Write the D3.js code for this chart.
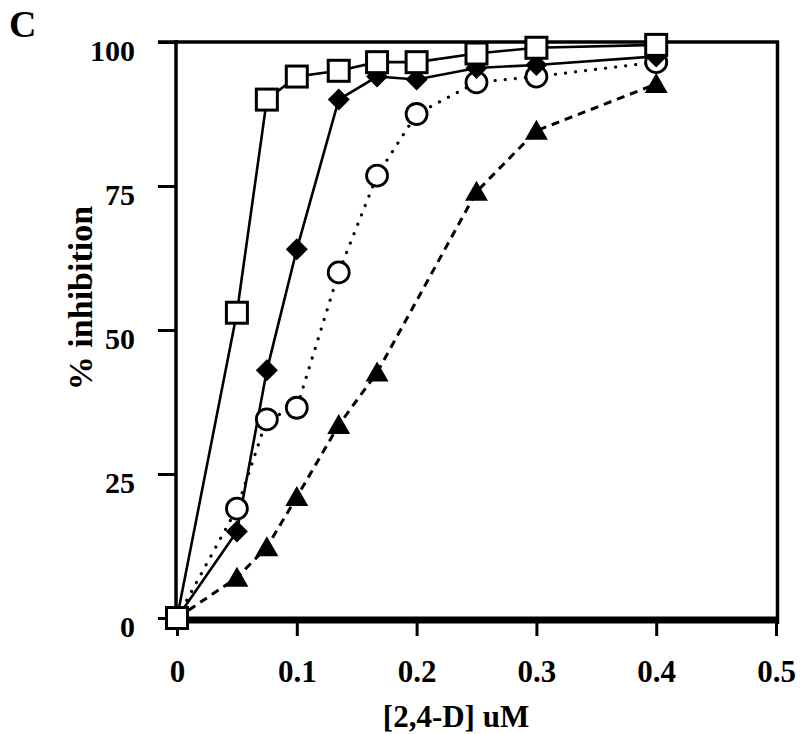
<!DOCTYPE html>
<html>
<head>
<meta charset="utf-8">
<script src="https://cdn.jsdelivr.net/npm/d3@7"></script>
<style>
  html, body { margin: 0; padding: 0; background: #fff; }
  svg { display: block; }
  text { font-family: "Liberation Serif", "Times New Roman", serif; font-weight: bold; fill: #000; }
</style>
</head>
<body>
<svg id="chart" width="800" height="734"></svg>
<script>
// ---- data ----
const xTicks = [0, 0.1, 0.2, 0.3, 0.4, 0.5];
const yTicks = [0, 25, 50, 75, 100];

const squareX = [0, 0.05, 0.075, 0.1, 0.135, 0.167, 0.2, 0.25, 0.3, 0.4];
const squareY = [0, 53, 90, 94, 95, 96.5, 96.5, 98, 99, 99.5];

const diamondX = [0, 0.05, 0.075, 0.1, 0.135, 0.167, 0.2, 0.25, 0.3, 0.4];
const diamondY = [0, 15, 43, 64, 90, 94, 93.5, 95.5, 96, 97.5];

const circleX = [0, 0.05, 0.075, 0.1, 0.135, 0.167, 0.2, 0.25, 0.3, 0.4];
const circleY = [0, 19, 34.5, 36.5, 60, 76.8, 87.5, 93, 94, 96.5];

const triangleX = [0, 0.05, 0.075, 0.1, 0.135, 0.167, 0.25, 0.3, 0.4];
const triangleY = [0, 7, 12.3, 21, 33.5, 42.6, 74, 84.6, 92.7];

// ---- chart ----
const svg = d3.select("#chart");
const x = d3.scaleLinear().domain([0, 0.5]).range([177, 776]);
const y = d3.scaleLinear().domain([0, 100]).range([618, 42]);

const zip = (xs, ys) => xs.map((v, i) => [v, ys[i]]);
const line = d3.line().x(d => x(d[0])).y(d => y(d[1]));

// panel letter
svg.append("text").attr("x", 9).attr("y", 37).attr("font-size", 38).text("C");

// frame: top and right
svg.append("line").attr("x1", 158).attr("x2", 779).attr("y1", 42).attr("y2", 42)
  .attr("stroke", "#000").attr("stroke-width", 3.5);
svg.append("line").attr("x1", 777.5).attr("x2", 777.5).attr("y1", 41).attr("y2", 624)
  .attr("stroke", "#000").attr("stroke-width", 3.5);

// y axis
const yAxis = svg.append("g").attr("transform", "translate(176,0)")
  .call(d3.axisLeft(y).tickValues(yTicks).tickSize(18).tickFormat(d3.format("d")));
yAxis.select(".domain").remove();
yAxis.selectAll(".tick line").attr("stroke", "#000").attr("stroke-width", 3);
yAxis.selectAll(".tick text").attr("x", -41).attr("dy", "0.62em")
  .attr("font-size", 30).attr("font-family", null);
svg.append("line").attr("x1", 176).attr("x2", 176).attr("y1", 40).attr("y2", 624)
  .attr("stroke", "#000").attr("stroke-width", 3.5);

// x axis
const xAxis = svg.append("g").attr("transform", "translate(0,620)")
  .call(d3.axisBottom(x).tickValues(xTicks).tickSize(16).tickFormat(d => d === 0 ? "0" : d3.format(".1f")(d)));
xAxis.select(".domain").remove();
xAxis.selectAll(".tick line").attr("stroke", "#000").attr("stroke-width", 3);
xAxis.selectAll(".tick text").attr("y", 62).attr("dy", 0)
  .attr("font-size", 31).attr("font-family", null);
svg.append("line").attr("x1", 174).attr("x2", 779).attr("y1", 620).attr("y2", 620)
  .attr("stroke", "#000").attr("stroke-width", 7);

// axis titles
svg.append("text").attr("x", 456).attr("y", 727).attr("text-anchor", "middle")
  .attr("font-size", 31).text("[2,4-D] uM");
svg.append("text").attr("transform", "translate(92,298) rotate(-90)")
  .attr("text-anchor", "middle").attr("font-size", 34).text("% inhibition");

// series
const triData = zip(triangleX, triangleY);
const cirData = zip(circleX, circleY);
const diaData = zip(diamondX, diamondY);
const sqData = zip(squareX, squareY);

svg.append("path").datum(triData).attr("d", line).attr("fill", "none")
  .attr("stroke", "#000").attr("stroke-width", 3).attr("stroke-dasharray", "8,6");
svg.append("path").datum(cirData).attr("d", line).attr("fill", "none")
  .attr("stroke", "#000").attr("stroke-width", 3.2).attr("stroke-dasharray", "0.1,10")
  .attr("stroke-linecap", "round");
svg.append("path").datum(diaData).attr("d", line).attr("fill", "none")
  .attr("stroke", "#000").attr("stroke-width", 2.6);
svg.append("path").datum(sqData).attr("d", line).attr("fill", "none")
  .attr("stroke", "#000").attr("stroke-width", 2.6);

// triangles
svg.selectAll(".tri").data(triData.slice(1)).enter().append("path")
  .attr("transform", d => `translate(${x(d[0])},${y(d[1])})`)
  .attr("d", "M0,-11 L11.5,9 L-11.5,9 Z").attr("fill", "#000");

// circles
svg.selectAll(".cir").data(cirData.slice(1)).enter().append("circle")
  .attr("cx", d => x(d[0])).attr("cy", d => y(d[1])).attr("r", 10.5)
  .attr("fill", "#fff").attr("stroke", "#000").attr("stroke-width", 2.8);

// diamonds
svg.selectAll(".dia").data(diaData.slice(1)).enter().append("path")
  .attr("transform", d => `translate(${x(d[0])},${y(d[1])})`)
  .attr("d", "M0,-11 L11,0 L0,11 L-11,0 Z").attr("fill", "#000");

// squares
svg.selectAll(".sq").data(sqData).enter().append("rect")
  .attr("x", d => x(d[0]) - 10.5).attr("y", d => y(d[1]) - 10.5)
  .attr("width", 21).attr("height", 21)
  .attr("fill", "#fff").attr("stroke", "#000").attr("stroke-width", 3);
</script>
</body>
</html>
